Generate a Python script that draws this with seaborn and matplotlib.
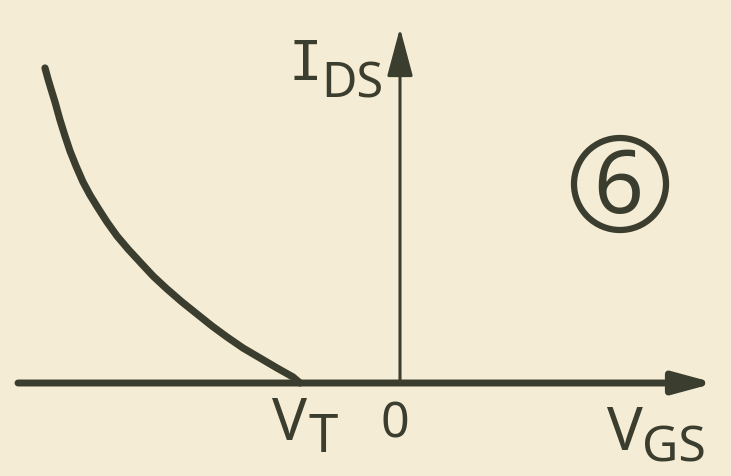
import matplotlib
matplotlib.use("Agg")
import matplotlib.pyplot as plt
from matplotlib.patches import Circle
import seaborn as sns

# Transfer characteristic of a p-channel enhancement MOSFET (I_DS vs V_GS)
v_gs = [-3.55, -3.52, -3.49, -3.45, -3.40, -3.35, -3.30, -3.24, -3.17, -3.10,
        -3.02, -2.93, -2.83, -2.72, -2.60, -2.47, -2.33, -2.18, -2.03, -1.88,
        -1.73, -1.57, -1.40, -1.23, -1.07, -1.00]
i_ds = [3.15, 3.04, 2.94, 2.81, 2.63, 2.47, 2.32, 2.17, 2.01, 1.88,
        1.75, 1.61, 1.47, 1.34, 1.21, 1.07, 0.94, 0.81, 0.69, 0.57,
        0.46, 0.35, 0.25, 0.15, 0.06, 0.00]
v_t = -1.0
x_range = [-3.82, 3.15]
i_top = 3.55
figure_number = "6"

paper = "#f4ecd4"
ink = "#3b3d2e"

sns.set_theme(style="white")
plt.rcParams["font.family"] = ["Noto Sans", "DejaVu Sans"]

fig = plt.figure(figsize=(7.31, 4.76), dpi=100, facecolor=paper)
ax = fig.add_axes([0, 0, 1, 1])
ax.set_facecolor(paper)
ax.set_xlim(-4.0, 3.31)
ax.set_ylim(-0.93, 3.83)
ax.axis("off")

# axes with arrowheads
ax.annotate("", xy=(x_range[1], 0), xytext=(x_range[0], 0),
            arrowprops=dict(arrowstyle="-|>,head_length=2.4,head_width=0.65",
                            mutation_scale=10, lw=5, color=ink,
                            shrinkA=0, shrinkB=0, capstyle="round"))
ax.annotate("", xy=(0, i_top), xytext=(0, 0),
            arrowprops=dict(arrowstyle="-|>,head_length=3.0,head_width=0.8",
                            mutation_scale=10, lw=2.2, color=ink,
                            shrinkA=0, shrinkB=0))

# characteristic curve
sns.lineplot(x=v_gs, y=i_ds, ax=ax, sort=False, estimator=None,
             color=ink, linewidth=5.2, solid_capstyle="round",
             solid_joinstyle="round")

# labels
lab = dict(color=ink, ha="center", va="baseline")
ax.text(-0.95, 3.03, "I", fontsize=40, color=ink, ha="center", va="baseline",
        family=["DejaVu Sans Mono"])
ax.text(-0.48, 2.85, "DS", fontsize=35, **lab)
ax.text(-1.10, -0.57, "V", fontsize=42, **lab)
ax.text(-0.77, -0.69, "T", fontsize=38, **lab)
ax.text(-0.05, -0.55, "0", fontsize=36, **lab)
ax.text(2.25, -0.67, "V", fontsize=43, **lab)
ax.text(2.74, -0.79, "GS", fontsize=36, **lab)

# circled figure number
ax.add_patch(Circle((2.2, 1.99), 0.46, fill=False, lw=4.5, edgecolor=ink))
ax.text(2.18, 1.70, figure_number, fontsize=63, **lab)

fig.savefig("out.png", dpi=100, facecolor=paper)
